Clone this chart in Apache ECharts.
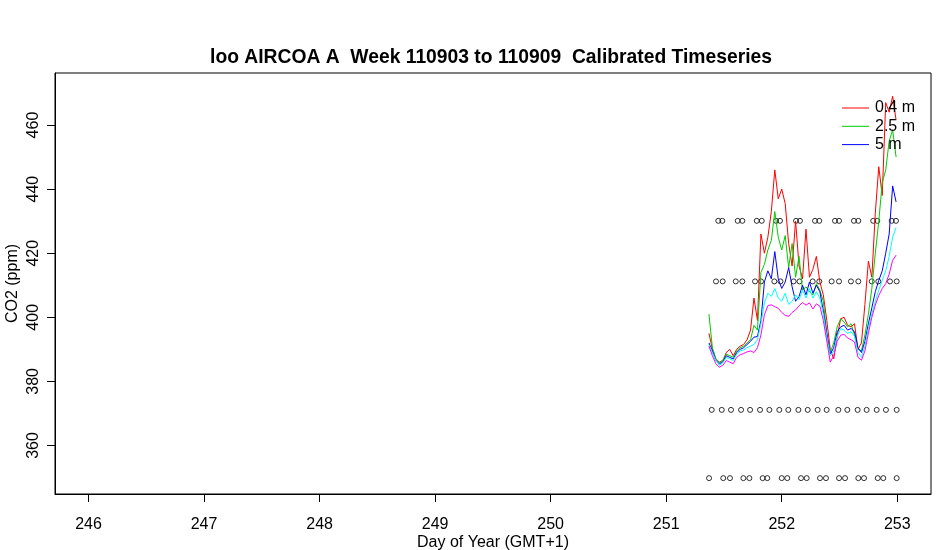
<!DOCTYPE html>
<html>
<head>
<meta charset="utf-8">
<script src="https://cdn.jsdelivr.net/npm/echarts@6/dist/echarts.min.js"></script>
<style>
html,body{margin:0;padding:0;background:#fff;}
#chart{width:950px;height:550px;}
</style>
</head>
<body>
<div id="chart"></div>
<script>
// ---- data ----
var titleText = 'loo AIRCOA A  Week 110903 to 110909  Calibrated Timeseries';
var xTicks = [246, 247, 248, 249, 250, 251, 252, 253];
var yTicks = [360, 380, 400, 420, 440, 460];

var times = [251.37, 251.40, 251.43, 251.46, 251.49, 251.52, 251.55, 251.58, 251.61, 251.64,
             251.67, 251.70, 251.73, 251.76, 251.79, 251.82, 251.85, 251.88, 251.91, 251.94,
             251.97, 252.00, 252.03, 252.06, 252.09, 252.12, 252.15, 252.18, 252.21, 252.24,
             252.27, 252.30, 252.33, 252.36, 252.39, 252.42, 252.45, 252.48, 252.51, 252.54,
             252.57, 252.60, 252.63, 252.66, 252.69, 252.72, 252.75, 252.78, 252.81, 252.84,
             252.87, 252.90, 252.93, 252.96, 252.99];

var co2_04m = [395.0, 390.0, 387.0, 386.0, 386.5, 389.0, 390.0, 388.0, 390.0, 391.0,
               391.5, 393.0, 396.0, 406.0, 399.0, 426.0, 420.0, 425.0, 433.0, 446.0,
               437.0, 440.0, 435.5, 423.0, 416.0, 430.0, 416.0, 412.0, 427.5, 412.5,
               415.0, 419.0, 411.0, 407.0, 399.0, 390.0, 387.0, 394.0, 399.5, 400.0,
               397.5, 397.0, 398.0, 390.0, 392.0, 404.0, 417.5, 412.5, 432.5, 447.0,
               438.0, 467.0, 464.0, 469.0, 461.5];

var co2_25m = [401.0, 390.5, 387.0, 385.8, 386.5, 388.5, 388.0, 387.5, 389.5, 390.5,
               391.0, 392.0, 393.0, 397.5, 396.0, 414.0, 416.5, 421.0, 424.0, 433.0,
               425.0, 421.0, 425.5, 415.5, 423.0, 412.5, 419.0, 408.5, 409.5, 408.0,
               407.0, 410.5, 408.5, 405.0, 395.0, 389.0, 392.0, 397.0, 399.5, 398.5,
               397.0, 398.0, 394.5, 390.0, 389.5, 394.5, 401.0, 409.0, 420.0, 430.0,
               442.0, 446.0, 455.0, 458.5, 450.0];

var co2_5m = [392.0, 389.5, 386.5, 385.5, 386.0, 388.0, 387.5, 387.0, 389.0, 390.0,
              390.5, 391.5, 392.5, 393.8, 394.0, 399.0, 411.0, 414.5, 412.0, 420.5,
              412.0, 409.0, 411.0, 415.5, 409.5, 405.0, 406.5, 410.0, 407.0, 411.0,
              407.5, 410.0, 408.0, 402.0, 395.0, 388.5, 390.5, 395.5, 397.0, 397.5,
              396.0, 396.5, 395.5, 390.5, 389.0, 392.5, 398.0, 403.0, 408.0, 411.5,
              414.5, 420.0, 426.0, 441.0, 436.0];

var co2_h4 = [391.5, 389.0, 386.5, 385.0, 385.8, 387.5, 387.0, 386.5, 388.5, 389.5,
              389.8, 390.5, 391.0, 391.5, 393.0, 398.0, 404.5, 407.5, 406.5, 409.0,
              406.0, 405.0, 407.5, 404.0, 405.0, 407.0, 405.5, 408.5, 406.0, 409.0,
              406.0, 408.0, 406.0, 401.0, 394.0, 388.0, 389.5, 394.0, 396.5, 396.0,
              395.0, 395.5, 394.0, 389.0, 387.5, 391.0, 396.5, 401.0, 405.0, 408.5,
              411.5, 414.5, 419.0, 425.0, 428.0];

var co2_h5 = [391.0, 388.0, 385.5, 384.4, 385.0, 386.5, 386.0, 385.5, 387.5, 388.3,
              388.7, 389.2, 389.5, 389.0, 390.5, 394.5, 400.8, 403.6, 403.9, 403.3,
              402.8, 401.5, 400.6, 400.3, 401.5, 402.3, 403.6, 404.6, 403.8, 404.5,
              402.6, 404.2, 403.5, 399.0, 392.6, 386.0, 388.0, 392.5, 394.4, 394.7,
              393.5, 393.0, 392.3, 387.5, 386.6, 389.5, 395.0, 400.0, 403.8, 406.8,
              409.0, 410.5, 413.5, 417.8, 419.4];

// calibration / reference tank measurements (4 rows)
var std1Days = [251.451, 251.486, 251.619, 251.659, 251.784, 251.827, 251.951, 251.985, 252.124, 252.158,
                252.288, 252.325, 252.461, 252.496, 252.625, 252.663, 252.792, 252.827, 252.952, 252.989];
var std1Value = 430.1;
var std2Days = [251.431, 251.489, 251.602, 251.659, 251.769, 251.821, 251.936, 251.989, 252.103, 252.154,
                252.268, 252.325, 252.432, 252.496, 252.599, 252.663, 252.779, 252.836, 252.937, 252.995];
var std2Value = 411.2;
var std3Days = [251.394, 251.481, 251.561, 251.648, 251.726, 251.812, 251.893, 251.979, 252.057, 252.144,
                252.225, 252.311, 252.389, 252.490, 252.568, 252.657, 252.735, 252.822, 252.902, 252.995];
var std3Value = 371.1;
var std4Days = [251.371, 251.494, 251.552, 251.668, 251.720, 251.835, 251.875, 252.000, 252.048, 252.167,
                252.216, 252.331, 252.383, 252.496, 252.548, 252.663, 252.712, 252.831, 252.879, 252.995];
var std4Value = 349.8;

var lineNames = ['0.4 m', '2.5 m', '5 m', 'h4', 'h5'];
var lineColors = ['#FF0000', '#00CD00', '#0000FF', '#00FFFF', '#FF00FF'];
var legendNames = ['0.4 m', '2.5 m', '5 m'];

// ---- build ----
function pairs(xs, ys) { return xs.map(function (x, i) { return [x, ys[i]]; }); }
function flat(xs, v) { return xs.map(function (x) { return [x, v]; }); }

var lineData = [co2_04m, co2_25m, co2_5m, co2_h4, co2_h5];
var series = [];
[[std1Days, std1Value], [std2Days, std2Value], [std3Days, std3Value], [std4Days, std4Value]].forEach(function (s, i) {
  series.push({
    name: 'std' + (i + 1), type: 'scatter', symbol: 'circle', symbolSize: 5,
    itemStyle: { color: 'rgba(0,0,0,0)', borderColor: '#000', borderWidth: 1 },
    data: flat(s[0], s[1]), silent: true, z: 2
  });
});
lineData.forEach(function (d, i) {
  series.push({
    name: lineNames[i], type: 'line', showSymbol: false, symbol: 'none',
    lineStyle: { color: lineColors[i], width: 1 }, itemStyle: { color: lineColors[i] },
    data: pairs(times, d), z: 3
  });
});

var FONT = 'Liberation Sans, Arial, sans-serif';
var chart = echarts.init(document.getElementById('chart'), null, { renderer: 'canvas' });
chart.setOption({
  animation: false,
  backgroundColor: '#fff',
  title: {
    text: titleText, left: 486, top: 43, textAlign: 'center',
    textStyle: { fontFamily: FONT, fontSize: 19.3, fontWeight: 'bold', color: '#000' }
  },
  legend: {
    data: legendNames, orient: 'vertical', left: 837, top: 95,
    icon: 'rect', itemWidth: 27, itemHeight: 1, itemGap: 2.3,
    textStyle: { fontFamily: FONT, fontSize: 16, color: '#000', lineHeight: 16, padding: [0, 0, 0, 1] }
  },
  grid: {
    left: 55, right: 19, top: 73, bottom: 56, show: true,
    outerBoundsMode: 'none',
    borderColor: '#000', borderWidth: 1, backgroundColor: 'transparent'
  },
  xAxis: {
    type: 'value', min: 245.71, max: 253.292,
    name: 'Day of Year (GMT+1)', nameLocation: 'middle', nameGap: 41, nameMoveOverlap: false,
    nameTextStyle: { fontFamily: FONT, fontSize: 16, color: '#000' },
    axisLine: { show: true, lineStyle: { color: '#000', width: 1 } },
    axisTick: { show: true, customValues: xTicks, length: 8, lineStyle: { color: '#000', width: 1 } },
    axisLabel: { customValues: xTicks, margin: 23, fontFamily: FONT, fontSize: 16, color: '#000' },
    splitLine: { show: false }
  },
  yAxis: {
    type: 'value', min: 344.85, max: 476.24,
    name: 'CO2 (ppm)', nameLocation: 'middle', nameGap: 34.5, nameRotate: 90, nameMoveOverlap: false,
    nameTextStyle: { fontFamily: FONT, fontSize: 16, color: '#000' },
    axisLine: { show: true, lineStyle: { color: '#000', width: 1 } },
    axisTick: { show: true, customValues: yTicks, length: 8, lineStyle: { color: '#000', width: 1 } },
    axisLabel: { customValues: yTicks, rotate: 90, margin: 13.5, fontFamily: FONT, fontSize: 16, color: '#000' },
    splitLine: { show: false }
  },
  series: series
});
</script>
</body>
</html>
